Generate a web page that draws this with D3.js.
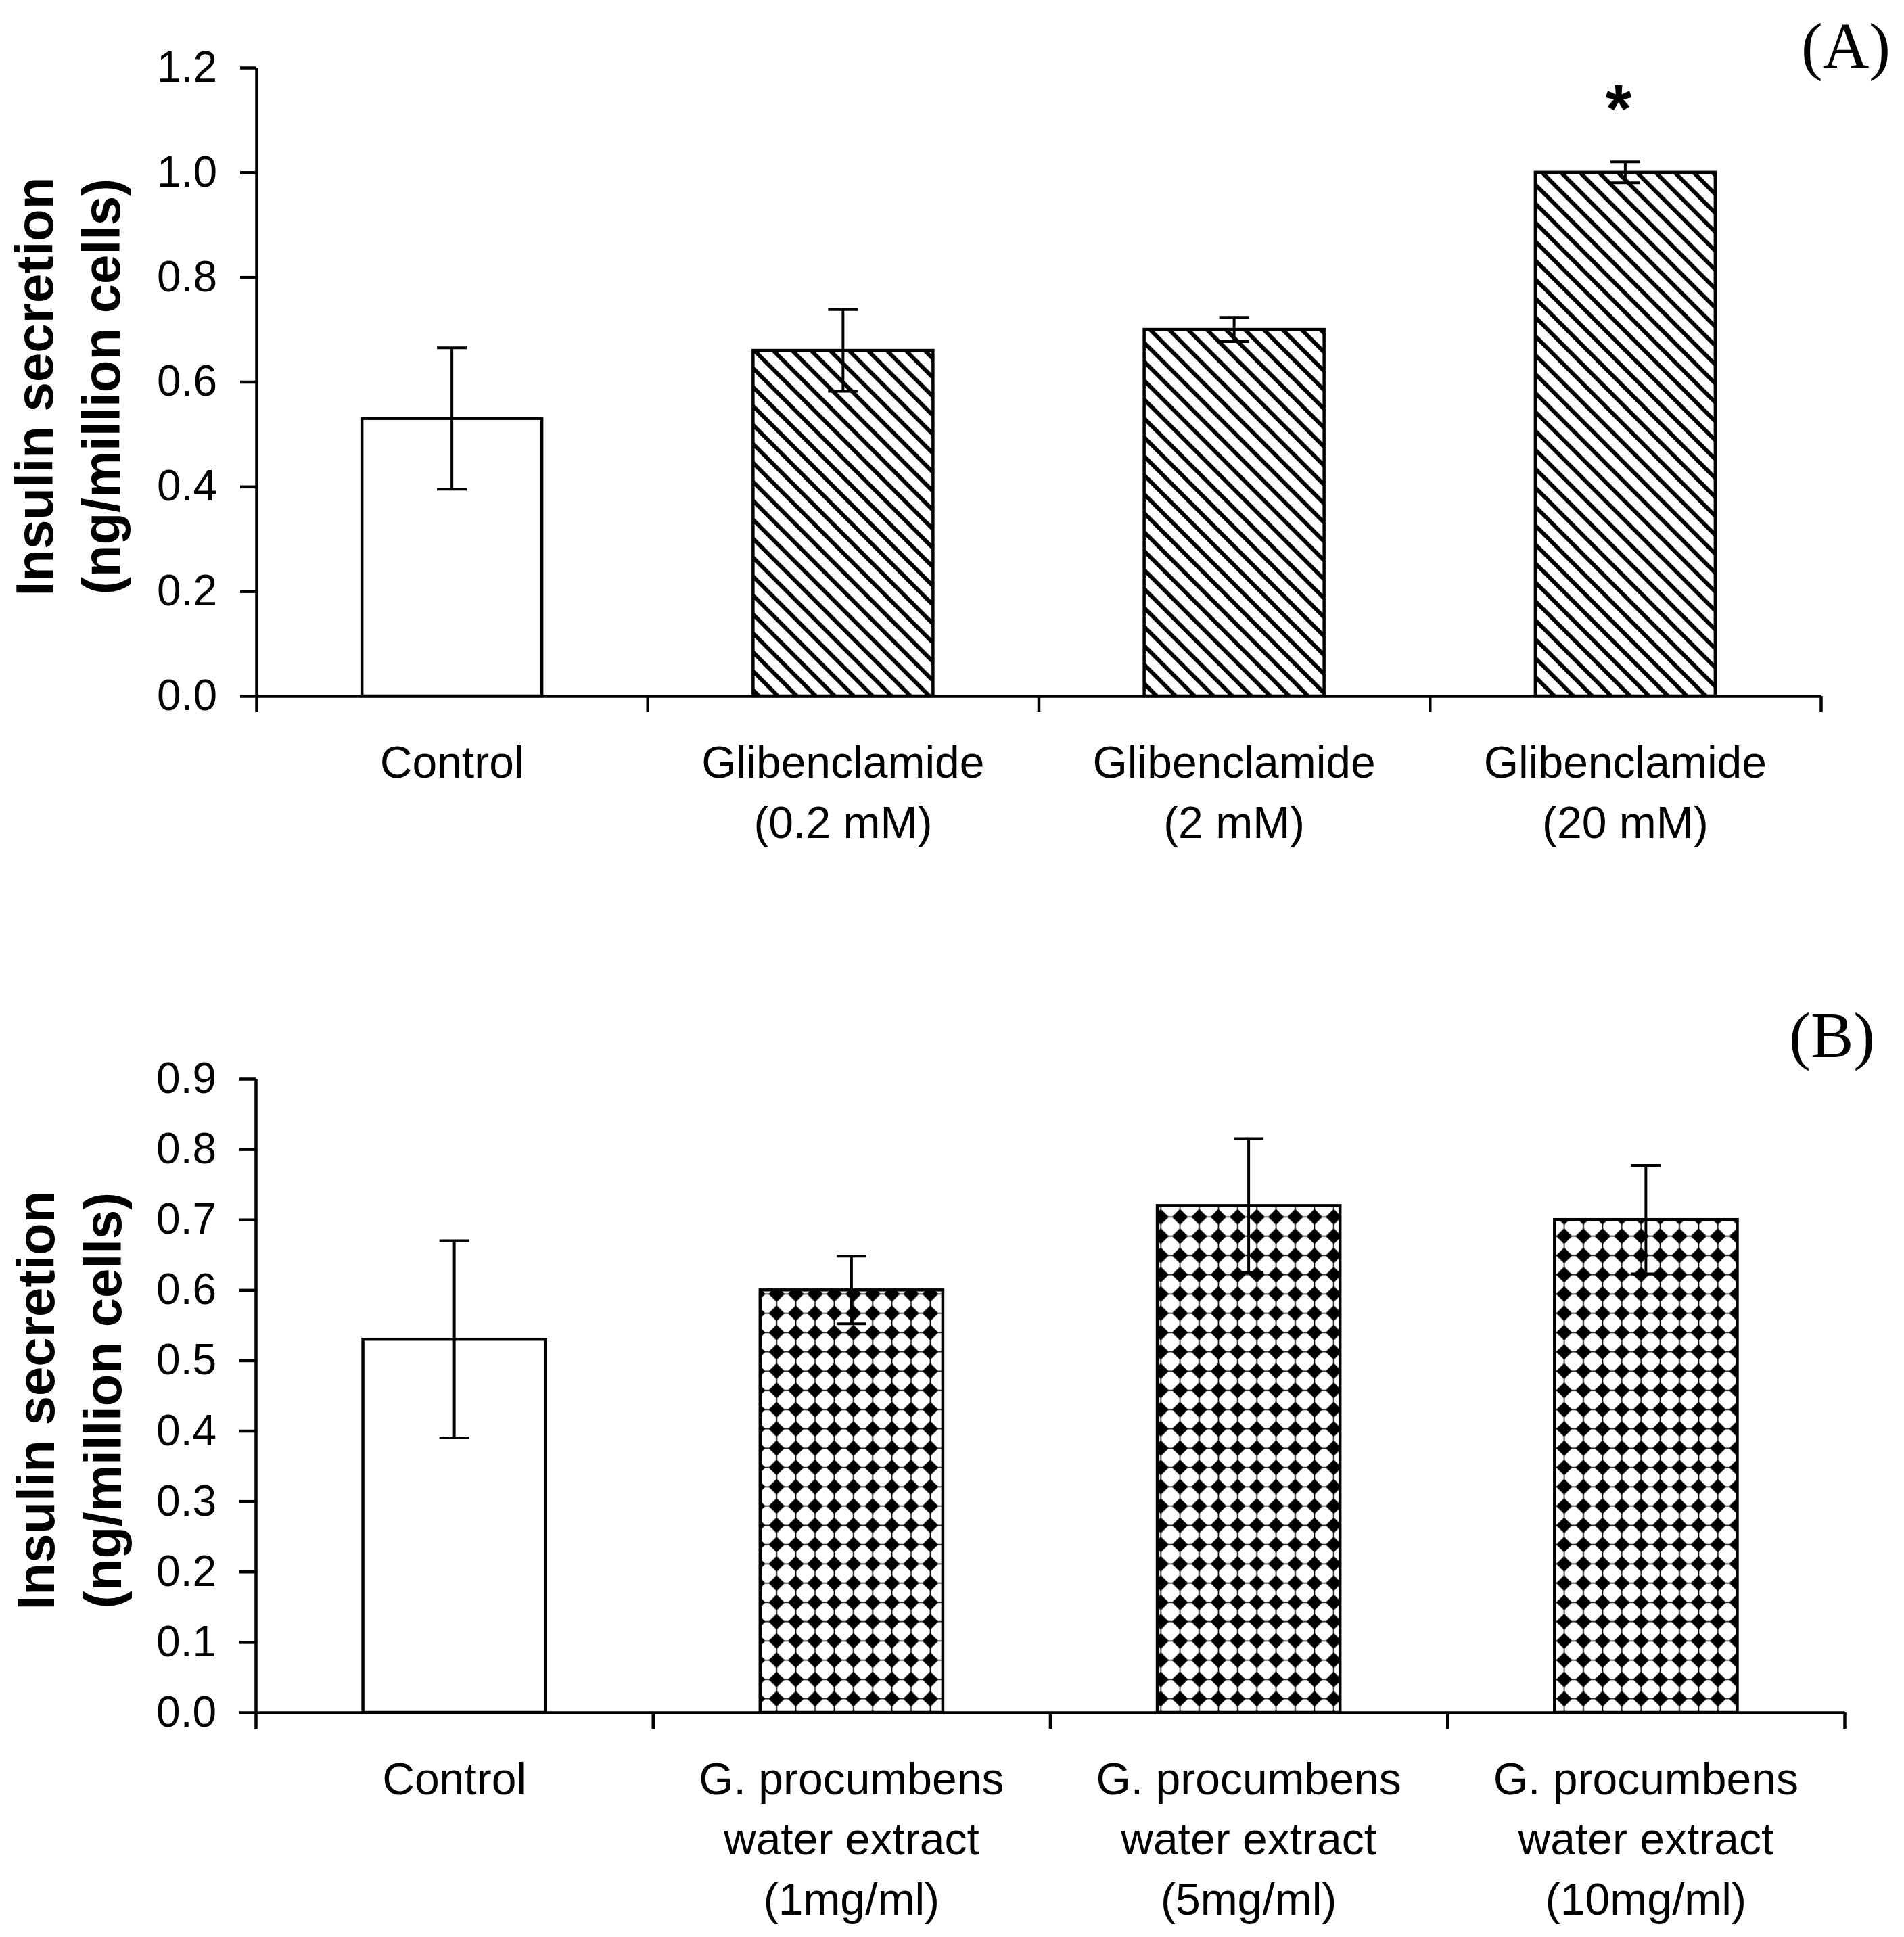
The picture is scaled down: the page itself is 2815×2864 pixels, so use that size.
<!DOCTYPE html>
<html>
<head>
<meta charset="utf-8">
<script src="https://cdn.jsdelivr.net/npm/d3@7"></script>
<style>
  html, body { margin: 0; padding: 0; background: #fff; }
  svg { display: block; }
  .axis path, .axis line { stroke: #000; stroke-width: 4.5; }
  .axis text { font-family: "Liberation Sans", Arial, sans-serif; font-size: 64px; fill: #000; }
  .cat { font-family: "Liberation Sans", Arial, sans-serif; font-size: 66px; fill: #000; }
  .ytitle { font-family: "Liberation Sans", Arial, sans-serif; font-size: 78px; font-weight: bold; fill: #000; }
  .panel { font-family: "Liberation Serif", "Times New Roman", serif; font-size: 95px; fill: #000; }
  .star { font-family: "Liberation Sans", Arial, sans-serif; font-size: 100px; font-weight: bold; fill: #000; }
</style>
</head>
<body>
<svg id="chart" width="2815" height="2864"></svg>
<script>
// ── Data ──

// Panel A — glibenclamide
const labelsA = [["Control"], ["Glibenclamide", "(0.2 mM)"], ["Glibenclamide", "(2 mM)"], ["Glibenclamide", "(20 mM)"]];
const meansA  = [0.53, 0.66, 0.70, 1.00];
const errsA   = [0.135, 0.078, 0.023, 0.02];
const starsA  = ["", "", "", "*"];
const yTicksA = [0.0, 0.2, 0.4, 0.6, 0.8, 1.0, 1.2];

// Panel B — G. procumbens water extract
const labelsB = [["Control"],
                 ["G. procumbens", "water extract", "(1mg/ml)"],
                 ["G. procumbens", "water extract", "(5mg/ml)"],
                 ["G. procumbens", "water extract", "(10mg/ml)"]];
const meansB  = [0.53, 0.60, 0.72, 0.70];
const errsB   = [0.14, 0.048, 0.095, 0.077];
const starsB  = ["", "", "", ""];
const yTicksB = [0.0, 0.1, 0.2, 0.3, 0.4, 0.5, 0.6, 0.7, 0.8, 0.9];

const yTitle = ["Insulin secretion", "(ng/million cells)"];

// ── Setup ──
const svg = d3.select('#chart');
svg.append('rect').attr('width', 2815).attr('height', 2864).attr('fill', '#fff');

const defs = svg.append('defs');

// diagonal hatch (top-left → bottom-right)
const hatch = defs.append('pattern')
    .attr('id', 'hatch').attr('patternUnits', 'userSpaceOnUse')
    .attr('width', 28).attr('height', 28).attr('x', 15).attr('y', 6);
hatch.append('path')
    .attr('d', 'M-7,-7L35,35M-7,21L7,35M21,-7L35,7')
    .attr('stroke', '#000').attr('stroke-width', 6).attr('fill', 'none');

// diamond grid
const dw = 28.4, dh = 28.5, dr = 11.8;
const diamond = defs.append('pattern')
    .attr('id', 'diamond').attr('patternUnits', 'userSpaceOnUse')
    .attr('width', dw).attr('height', dh).attr('x', 1134).attr('y', 1899);
diamond.append('rect').attr('width', dw).attr('height', dh).attr('fill', '#fff');
diamond.append('path')
    .attr('d', `M0,${dh / 2}H${dw}M${dw / 2},0V${dh}`)
    .attr('stroke', '#000').attr('stroke-width', 1.6);
diamond.append('path')
    .attr('d', `M${dw / 2},${dh / 2 - dr}L${dw / 2 + dr},${dh / 2}L${dw / 2},${dh / 2 + dr}L${dw / 2 - dr},${dh / 2}Z`)
    .attr('fill', '#000');

const fillsA = ['#fff', 'url(#hatch)', 'url(#hatch)', 'url(#hatch)'];
const fillsB = ['#fff', 'url(#diamond)', 'url(#diamond)', 'url(#diamond)'];

// ── Panel drawer ──
function drawPanel(p) {
    const n = p.means.length;
    const x = d3.scaleBand().domain(d3.range(n)).range([p.left, p.right])
        .paddingInner(0.54).paddingOuter(0.27);
    const xEdge = d3.scaleLinear().domain([0, n]).range([p.left, p.right]);
    const y = d3.scaleLinear().domain([0, p.yMax]).range([p.bottom, p.top]);

    const g = svg.append('g');

    // bars
    g.selectAll('.bar').data(p.means).enter().append('rect')
        .attr('x', (d, i) => x(i))
        .attr('y', d => y(d))
        .attr('width', x.bandwidth())
        .attr('height', d => y(0) - y(d))
        .attr('fill', (d, i) => p.fills[i])
        .attr('stroke', '#000').attr('stroke-width', 4.5);

    // error bars
    const cap = 22;
    p.means.forEach((m, i) => {
        const cx = x(i) + x.bandwidth() / 2;
        const e = p.errs[i];
        const eg = g.append('g').attr('stroke', '#000').attr('stroke-width', 4);
        eg.append('line').attr('x1', cx).attr('x2', cx).attr('y1', y(m + e)).attr('y2', y(m - e));
        eg.append('line').attr('x1', cx - cap).attr('x2', cx + cap).attr('y1', y(m + e)).attr('y2', y(m + e));
        eg.append('line').attr('x1', cx - cap).attr('x2', cx + cap).attr('y1', y(m - e)).attr('y2', y(m - e));
        if (p.stars[i]) {
            g.append('text').attr('class', 'star')
                .attr('x', cx - 10).attr('y', y(m + e) - 44)
                .attr('text-anchor', 'middle').text(p.stars[i]);
        }
    });

    // y axis
    g.append('g').attr('class', 'axis')
        .attr('transform', `translate(${p.left},0)`)
        .call(d3.axisLeft(y).tickValues(p.yTicks).tickFormat(d3.format('.1f'))
            .tickSize(24).tickSizeOuter(0).tickPadding(34));

    // x axis — ticks at category boundaries
    g.append('g').attr('class', 'axis')
        .attr('transform', `translate(0,${p.bottom})`)
        .call(d3.axisBottom(xEdge).tickValues(d3.range(n + 1)).tickFormat('')
            .tickSize(24).tickSizeOuter(0));

    // category labels
    p.labels.forEach((lines, i) => {
        const t = g.append('text').attr('class', 'cat')
            .attr('text-anchor', 'middle')
            .attr('x', x(i) + x.bandwidth() / 2)
            .attr('y', p.bottom + 121);
        lines.forEach((s, k) => {
            t.append('tspan').attr('x', x(i) + x.bandwidth() / 2)
                .attr('dy', k === 0 ? 0 : 89).text(s);
        });
    });

    // y title (two rotated lines)
    const cy = (p.top + p.bottom) / 2 + 7;
    yTitle.forEach((s, k) => {
        g.append('text').attr('class', 'ytitle')
            .attr('text-anchor', 'middle')
            .attr('transform', `translate(${p.titleX[k]},${cy}) rotate(-90)`)
            .text(s);
    });

    // panel letter
    g.append('text').attr('class', 'panel')
        .attr('text-anchor', 'end')
        .attr('x', p.letterX).attr('y', p.letterY)
        .text(p.letter);
}

drawPanel({
    left: 379, right: 2692, top: 100, bottom: 1029, yMax: 1.2,
    means: meansA, errs: errsA, stars: starsA, yTicks: yTicksA,
    labels: labelsA, fills: fillsA, titleX: [78, 177],
    letter: '(A)', letterX: 2795, letterY: 100
});

drawPanel({
    left: 378, right: 2727, top: 1595, bottom: 2532, yMax: 0.9,
    means: meansB, errs: errsB, stars: starsB, yTicks: yTicksB,
    labels: labelsB, fills: fillsB, titleX: [80, 179],
    letter: '(B)', letterX: 2772, letterY: 1563
});
</script>
</body>
</html>
